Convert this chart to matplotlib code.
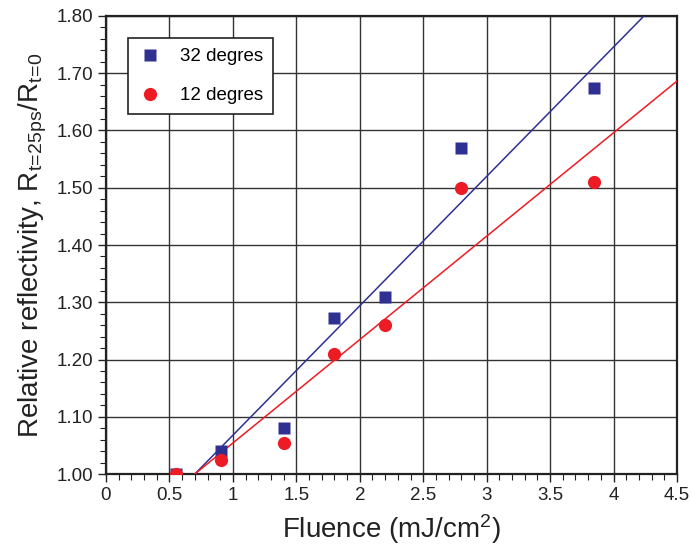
import matplotlib
matplotlib.use("Agg")
import matplotlib.pyplot as plt
import numpy as np
from matplotlib.ticker import MultipleLocator, FormatStrFormatter, FuncFormatter

plt.rcParams['font.family'] = ['Liberation Sans', 'DejaVu Sans']
plt.rcParams['mathtext.fontset'] = 'custom'
plt.rcParams['mathtext.rm'] = 'Liberation Sans'
plt.rcParams['mathtext.it'] = 'Liberation Sans'

# Measured data
fluence = [0.55, 0.91, 1.40, 1.80, 2.20, 2.80, 3.85]
refl_32 = [1.000, 1.040, 1.080, 1.272, 1.310, 1.570, 1.675]
refl_12 = [1.000, 1.025, 1.055, 1.210, 1.260, 1.500, 1.510]

# Linear fits: threshold fluence and slope
fit_threshold = 0.70
fit_slope_32 = 0.226
fit_slope_12 = 0.1806

blue = '#2e3192'
red = '#ed1c24'

fig = plt.figure(figsize=(6.91, 5.55), dpi=100)
ax = fig.add_axes([0.1534, 0.1459, 0.9797 - 0.1534, 0.9712 - 0.1459])

xfit = np.linspace(fit_threshold, 4.5, 200)
ax.plot(xfit, 1 + fit_slope_32 * (xfit - fit_threshold), color=blue, lw=1.1, zorder=3)
ax.plot(xfit, 1 + fit_slope_12 * (xfit - fit_threshold), color=red, lw=1.1, zorder=3)

ax.plot(fluence, refl_32, 's', color=blue, ms=8.5, mec='none', label='32 degres', zorder=4)
ax.plot(fluence, refl_12, 'o', color=red, ms=9.5, mec='none', label='12 degres', zorder=5)

ax.set_xlim(0, 4.5)
ax.set_ylim(1.0, 1.8)
ax.xaxis.set_major_locator(MultipleLocator(0.5))
ax.xaxis.set_minor_locator(MultipleLocator(0.1))
ax.yaxis.set_major_locator(MultipleLocator(0.1))
ax.yaxis.set_minor_locator(MultipleLocator(0.02))
ax.yaxis.set_major_formatter(FormatStrFormatter('%.2f'))
ax.xaxis.set_major_formatter(FuncFormatter(lambda v, p: ('%g' % v)))

ax.grid(True, which='major', color='#333333', lw=1.0)
ax.tick_params(which='major', direction='out', length=6, width=1, labelsize=13.5, colors='#222222')
ax.tick_params(which='minor', direction='out', length=4, width=0.8, colors='#222222')
for s in ax.spines.values():
    s.set_linewidth(1.6)
    s.set_color('#222222')

ax.set_xlabel('Fluence (mJ/cm$^\\mathregular{2}$)', fontsize=20, color='#222222', labelpad=6)
ax.set_ylabel('Relative reflectivity, R$_\\mathregular{t\\!=\\!25ps}$/R$_\\mathregular{t\\!=\\!0}$',
              fontsize=20, color='#222222', labelpad=5)

leg = ax.legend(loc='upper left', bbox_to_anchor=(0.0385, 0.952), borderaxespad=0,
                fontsize=13.5, frameon=True, fancybox=False, edgecolor='#222222',
                framealpha=1, borderpad=0.55, labelspacing=1.15, handletextpad=0.9,
                handlelength=1.3)
leg.get_frame().set_linewidth(1.2)

fig.savefig('out.png', dpi=100)
